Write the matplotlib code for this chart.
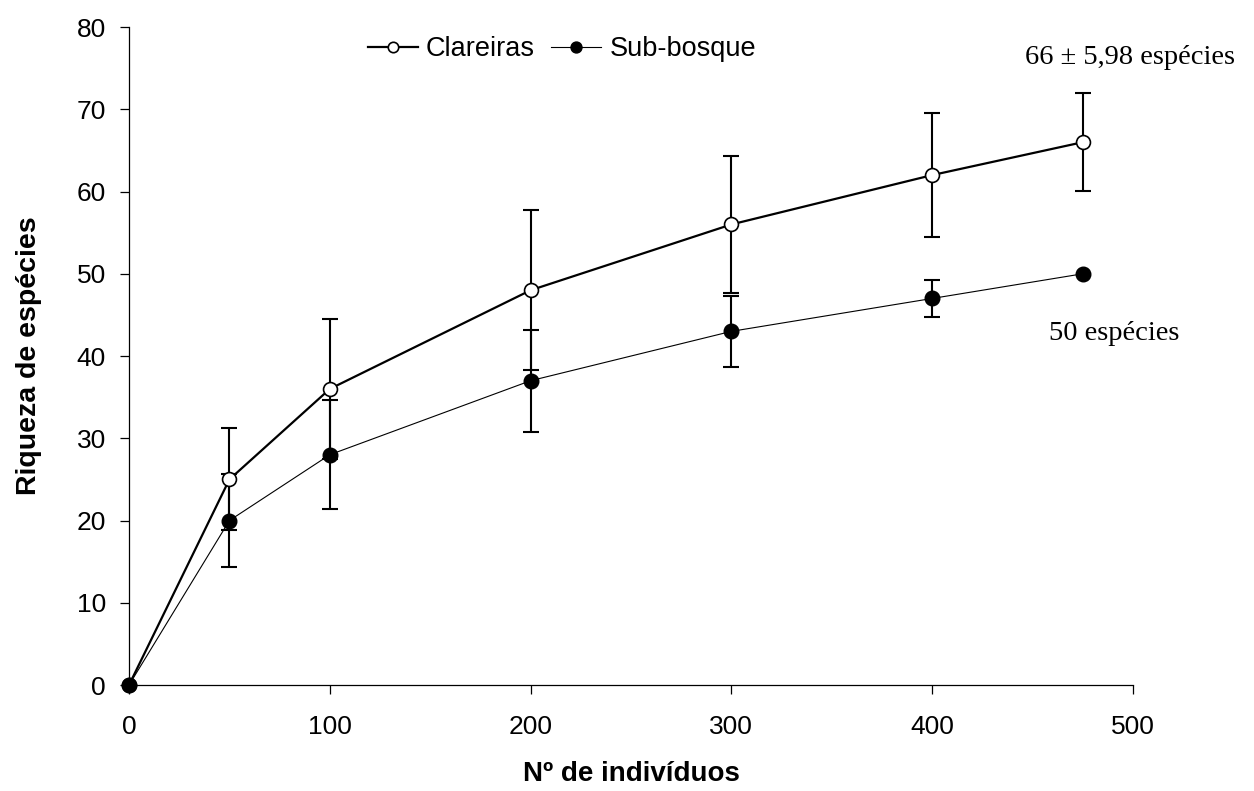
import matplotlib
matplotlib.use("Agg")
import matplotlib.pyplot as plt

# ---------------------------------------------------------------------------
# Data
# ---------------------------------------------------------------------------
x_clar = [0, 50, 100, 200, 300, 400, 475]
y_clar = [0, 25, 36, 48, 56, 62, 66]
err_clar = [0, 6.2, 8.5, 9.7, 8.3, 7.55, 5.98]

x_sub = [0, 50, 100, 200, 300, 400, 475]
y_sub = [0, 20, 28, 37, 43, 47, 50]
err_sub = [0, 5.6, 6.6, 6.2, 4.3, 2.25, 0]

x_ticks = [0, 100, 200, 300, 400, 500]
y_ticks = [0, 10, 20, 30, 40, 50, 60, 70, 80]

plt.rcParams.update({
    "font.family": ["Liberation Sans", "DejaVu Sans"],
    "font.size": 19,
})

fig = plt.figure(figsize=(12.54, 7.91), dpi=100)
ax = fig.add_axes([0.1029, 0.134, 0.8006, 0.8318])

# error bars first, drawn under the markers
ax.errorbar(x_clar, y_clar, yerr=err_clar, fmt="none", ecolor="black",
            elinewidth=1.5, capsize=6, capthick=1.5, zorder=2)
ax.errorbar(x_sub[:-1], y_sub[:-1], yerr=err_sub[:-1], fmt="none", ecolor="black",
            elinewidth=1.5, capsize=6, capthick=1.5, zorder=2)

ax.plot(x_clar, y_clar, "-o", color="black", lw=1.6, ms=10,
        mfc="white", mec="black", mew=1.2, label="Clareiras", zorder=3, clip_on=False)
ax.plot(x_sub, y_sub, "-o", color="black", lw=0.8, ms=10.5,
        mfc="black", mec="black", label="Sub-bosque", zorder=4, clip_on=False)

ax.set_xlim(0, 500)
ax.set_ylim(0, 80)
ax.set_xticks(x_ticks)
ax.set_yticks(y_ticks)
ax.spines["top"].set_visible(False)
ax.spines["right"].set_visible(False)
for s in ("left", "bottom"):
    ax.spines[s].set_linewidth(0.9)
ax.tick_params(direction="out", length=6.5, width=0.9, labelsize=19)
ax.tick_params(axis="y", pad=10)
ax.tick_params(axis="x", pad=15)

ax.set_xlabel("Nº de indivíduos", fontsize=20, fontweight="bold", labelpad=16)
ax.set_ylabel("Riqueza de espécies", fontsize=20.5, fontweight="bold", labelpad=25)

ax.text(498.7, 76.3, "66 ± 5,98 espécies", ha="center", va="center",
        fontsize=20.5, family=["Liberation Serif", "DejaVu Serif"])
ax.text(490.8, 42.7, "50 espécies", ha="center", va="center",
        fontsize=20.5, family=["Liberation Serif", "DejaVu Serif"])

ax.legend(loc="upper center", bbox_to_anchor=(0.431, 1.015), ncol=2, frameon=False,
          fontsize=19.5, handlelength=1.85, handletextpad=0.3, columnspacing=0.6,
          markerscale=0.75, borderpad=0.2)

fig.savefig("out.png", dpi=100)
